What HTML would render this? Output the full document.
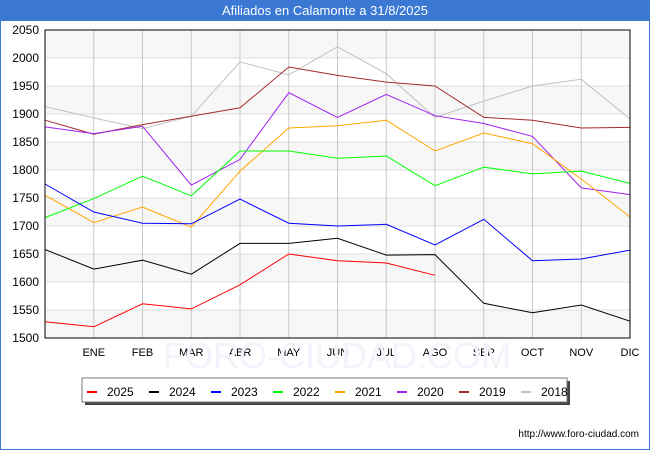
<!DOCTYPE html>
<html><head><meta charset="utf-8"><style>
html,body{margin:0;padding:0;background:#fff}
svg{display:block;font-family:"Liberation Sans","DejaVu Sans",sans-serif}
</style></head><body>
<svg id="c" width="650" height="450" viewBox="0 0 650 450">
<rect x="0" y="0" width="650" height="450" fill="#fff" stroke="#3a78d4" stroke-width="2"/>
<rect x="0" y="0" width="650" height="21" fill="#3a78d4"/>
<text x="325" y="15" text-anchor="middle" font-size="13" fill="#fff">Afiliados en Calamonte a 31/8/2025</text>
<g id="grid"></g>
<g id="series"></g>
<rect x="45" y="30" width="585" height="308" fill="none" stroke="#000" stroke-width="1"/>
<g id="legend"></g>
<text x="639" y="437" text-anchor="end" font-size="10" fill="#000">http://www.foro-ciudad.com</text>
</svg>
<script>
const months = ["","ENE","FEB","MAR","ABR","MAY","JUN","JUL","AGO","SEP","OCT","NOV","DIC"];
const yTicks = [1500,1550,1600,1650,1700,1750,1800,1850,1900,1950,2000,2050];
const years = ["2025","2024","2023","2022","2021","2020","2019","2018"];
const colors = ["#ff0000","#000000","#0000ff","#00ff00","#ffa500","#a020f0","#a52a2a","#c0c0c0"];
const s2025 = [1529,1520,1561,1552,1595,1650,1638,1634,1612];
const s2024 = [1658,1623,1639,1614,1669,1669,1678,1648,1649,1562,1545,1559,1530];
const s2023 = [1775,1725,1705,1704,1748,1705,1700,1703,1666,1712,1638,1641,1657];
const s2022 = [1715,1749,1789,1754,1834,1834,1821,1825,1772,1805,1793,1798,1776];
const s2021 = [1755,1706,1734,1698,1798,1875,1879,1889,1834,1866,1847,1784,1716];
const s2020 = [1877,1865,1878,1773,1819,1938,1894,1935,1897,1883,1860,1768,1756];
const s2019 = [1889,1864,1881,1896,1911,1984,1969,1957,1950,1894,1889,1875,1876];
const s2018 = [1913,1893,1874,1896,1993,1970,2020,1972,1894,1923,1950,1962,1891];
const allSeries = [s2025,s2024,s2023,s2022,s2021,s2020,s2019,s2018];

const NS="http://www.w3.org/2000/svg";
const L=45,R=630,T=30,B=338,ymin=1500,ymax=2050;
const x=i=>L+i*(R-L)/(months.length-1);
const y=v=>B-(v-ymin)*(B-T)/(ymax-ymin);
function mk(tag,attrs,parent){const e=document.createElementNS(NS,tag);for(const k in attrs)e.setAttribute(k,attrs[k]);parent.appendChild(e);return e;}
const grid=document.getElementById('grid');
for(let i=0;i<yTicks.length-1;i++){
  if(i%2===0){const r=mk('rect',{x:L,y:y(yTicks[i+1]),width:R-L,height:y(yTicks[i])-y(yTicks[i+1]),fill:'#f7f7f7'},grid);
  
  }
}
yTicks.forEach(v=>{
  const l=mk('line',{x1:L,x2:R,y1:y(v),y2:y(v),stroke:'#dddddd','stroke-width':1},grid);
  
  
  const t=mk('text',{x:39,y:y(v)+4,'text-anchor':'end','font-size':12,fill:'#000'},grid);
  t.textContent=v;
  
  
});
months.forEach((m,i)=>{
  if(i===0)return;
  const l=mk('line',{x1:x(i),x2:x(i),y1:T,y2:B,stroke:'#c8c8c8','stroke-width':1},grid);
  
  
  const t=mk('text',{x:x(i),y:356,'text-anchor':'middle','font-size':11,fill:'#000'},grid);
  t.textContent=m;
  
  
});
const wm=mk('text',{x:337,y:368,'text-anchor':'middle','font-size':36,fill:'#f2f3fb'},grid);
wm.textContent='FORO-CIUDAD.COM';


const sg=document.getElementById('series');
for(let k=allSeries.length-1;k>=0;k--){
  const pts=allSeries[k].map((v,i)=>x(i).toFixed(1)+','+y(v).toFixed(1)).join(' ');
  const p=mk('polyline',{points:pts,fill:'none',stroke:colors[k],'stroke-width':1},sg);
  
  
}
const lg=document.getElementById('legend');
mk('rect',{x:85,y:381,width:485,height:24,fill:'#444'},lg);
const box=mk('rect',{x:82,y:378,width:485,height:24,fill:'#fff',stroke:'#777','stroke-width':1},lg);


years.forEach((yr,k)=>{
  const ex=87+k*62;
  const g=mk('g',{},lg);
  
  
  mk('rect',{x:ex,y:391,width:10,height:2,fill:colors[k]},g);
  const t=mk('text',{x:ex+20,y:396,'font-size':12,fill:'#000'},g);
  t.textContent=yr;
});
</script>
</body></html>
